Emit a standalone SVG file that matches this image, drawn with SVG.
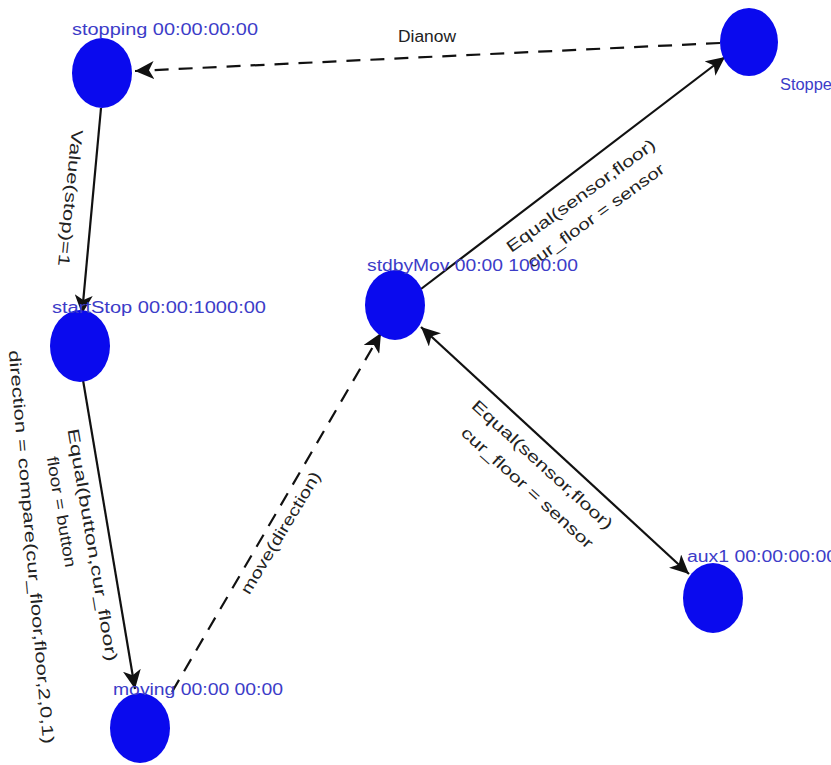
<svg xmlns="http://www.w3.org/2000/svg" width="831" height="765" viewBox="0 0 831 765">
  <style>
    .node { fill: #0a0aee; }
    .nlabel { font-family: "Liberation Sans", Arial, sans-serif; font-size: 16px; fill: #3c3cc8; }
    .elabel { font-family: "Liberation Sans", Arial, sans-serif; font-size: 16px; fill: #222222; text-anchor: middle; }
    .edge { fill: none; stroke: #111111; stroke-width: 2.2; }
    .dashed { stroke-dasharray: 14 10; }
  </style>
  <defs>
    <marker id="arrow" markerUnits="userSpaceOnUse" markerWidth="20" markerHeight="18" refX="19" refY="9" orient="auto">
      <path d="M0,0 L19,9 L0,18 L5,9 Z" fill="#111111"/>
    </marker>
    <marker id="arrowStart" markerUnits="userSpaceOnUse" markerWidth="20" markerHeight="18" refX="19" refY="9" orient="auto-start-reverse">
      <path d="M0,0 L19,9 L0,18 L5,9 Z" fill="#111111"/>
    </marker>
  </defs>
  <rect width="831" height="765" fill="#ffffff"/>

  <!-- transitions -->
  <g id="edges">
    <line class="edge dashed" x1="720" y1="43" x2="135" y2="71" marker-end="url(#arrow)"/>
    <line class="edge" x1="101" y1="108" x2="82" y2="314" marker-end="url(#arrow)"/>
    <line class="edge" x1="83" y1="380" x2="135" y2="689" marker-end="url(#arrow)"/>
    <line class="edge dashed" x1="172" y1="692" x2="381" y2="333" marker-end="url(#arrow)"/>
    <line class="edge" x1="421" y1="289" x2="725" y2="57" marker-end="url(#arrow)"/>
    <line class="edge" x1="421" y1="327" x2="689" y2="574" marker-start="url(#arrowStart)" marker-end="url(#arrow)"/>

    <text class="elabel" x="427" y="42" textLength="58" lengthAdjust="spacingAndGlyphs">Dianow</text>
    <text class="elabel" transform="translate(70,198) rotate(95.8)" y="5" textLength="137" lengthAdjust="spacingAndGlyphs">Value(stop)=1</text>
    <text class="elabel" transform="translate(92,545) rotate(80.4)" y="5" textLength="236" lengthAdjust="spacingAndGlyphs">Equal(button,cur_floor)</text>
    <text class="elabel" transform="translate(61,512) rotate(80.4)" y="5" textLength="112" lengthAdjust="spacingAndGlyphs">floor = button</text>
    <text class="elabel" transform="translate(31,547) rotate(85)" y="5" textLength="395" lengthAdjust="spacingAndGlyphs">direction = compare(cur_floor,floor,2,0,1)</text>
    <text class="elabel" transform="translate(281,533) rotate(-59)" y="5" textLength="140" lengthAdjust="spacingAndGlyphs">move(direction)</text>
    <text class="elabel" transform="translate(581,196) rotate(-36)" y="5" textLength="180" lengthAdjust="spacingAndGlyphs">Equal(sensor,floor)</text>
    <text class="elabel" transform="translate(596,216) rotate(-36)" y="5" textLength="165" lengthAdjust="spacingAndGlyphs">cur_floor = sensor</text>
    <text class="elabel" transform="translate(542,465) rotate(42.2)" y="5" textLength="184" lengthAdjust="spacingAndGlyphs">Equal(sensor,floor)</text>
    <text class="elabel" transform="translate(527,488) rotate(42.2)" y="5" textLength="172" lengthAdjust="spacingAndGlyphs">cur_floor = sensor</text>
  </g>

  <!-- states -->
  <g id="stopping">
    <ellipse class="node" cx="102" cy="73" rx="30" ry="35"/>
    <text class="nlabel" x="72" y="35" textLength="186" lengthAdjust="spacingAndGlyphs">stopping 00:00:00:00</text>
  </g>
  <g id="stopped">
    <ellipse class="node" cx="749" cy="42" rx="29" ry="34"/>
    <text class="nlabel" x="780" y="90" textLength="52" lengthAdjust="spacingAndGlyphs">Stoppe</text>
  </g>
  <g id="startStop">
    <ellipse class="node" cx="80" cy="346" rx="30" ry="36"/>
    <text class="nlabel" x="52" y="313" textLength="214" lengthAdjust="spacingAndGlyphs">startStop 00:00:1000:00</text>
  </g>
  <g id="stdbyMov">
    <ellipse class="node" cx="395" cy="305" rx="30" ry="35"/>
    <text class="nlabel" x="367" y="271" textLength="211" lengthAdjust="spacingAndGlyphs">stdbyMov 00:00 1000:00</text>
  </g>
  <g id="moving">
    <ellipse class="node" cx="140" cy="728" rx="30" ry="35"/>
    <text class="nlabel" x="113" y="695" textLength="170" lengthAdjust="spacingAndGlyphs">moving 00:00 00:00</text>
  </g>
  <g id="aux1">
    <ellipse class="node" cx="713" cy="598" rx="30" ry="35"/>
    <text class="nlabel" x="687" y="562" textLength="150" lengthAdjust="spacingAndGlyphs">aux1 00:00:00:00</text>
  </g>
</svg>
